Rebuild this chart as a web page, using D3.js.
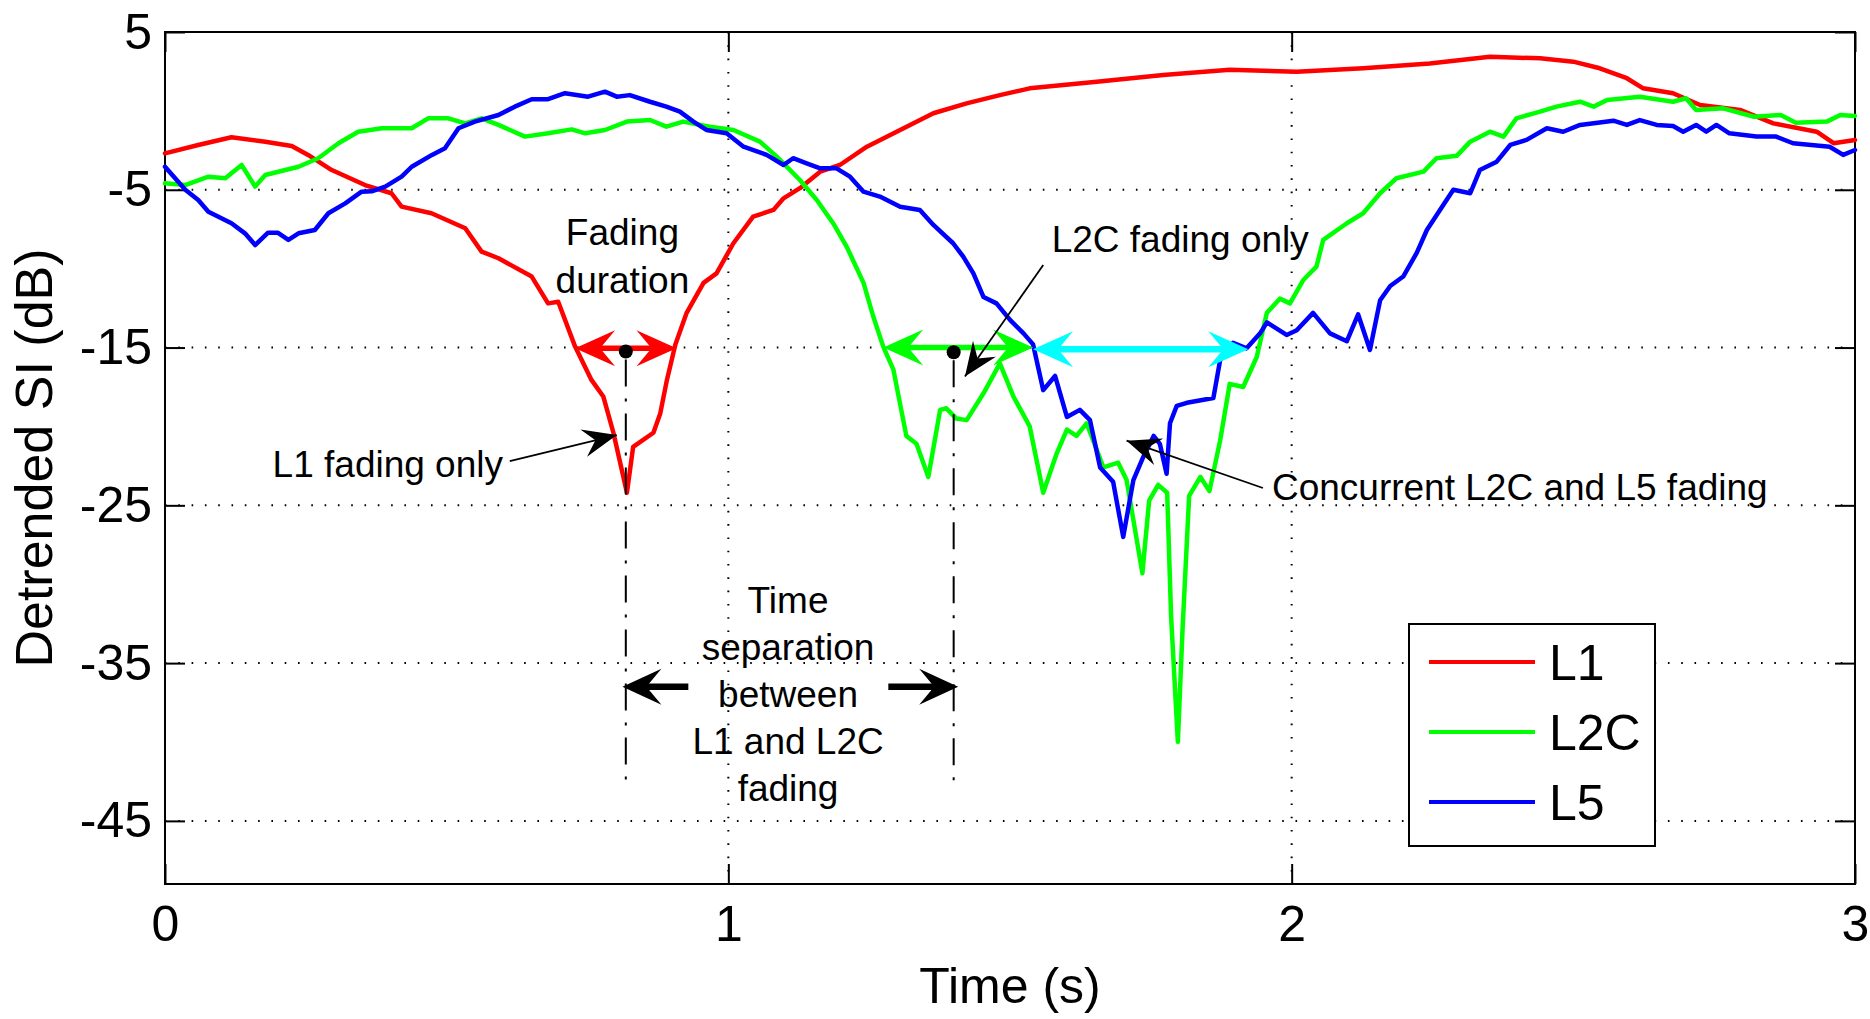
<!DOCTYPE html>
<html><head><meta charset="utf-8">
<script src="https://cdn.jsdelivr.net/npm/d3@7"></script>
<style>body{margin:0;background:#fff}svg{display:block}text{font-family:"Liberation Sans",Arial,Helvetica,sans-serif;fill:#000}</style>
</head><body><svg id="c" width="1870" height="1019"></svg>
<script>
// ---------- data ----------
const l1Time = [0,0.059,0.118,0.178,0.225,0.254,0.296,0.355,0.402,0.42,0.473,0.533,0.562,0.592,0.651,0.68,0.698,0.728,0.757,0.778,0.796,0.82,0.831,0.867,0.879,0.891,0.906,0.926,0.956,0.979,1.009,1.044,1.08,1.098,1.127,1.163,1.198,1.246,1.305,1.364,1.423,1.482,1.535,1.654,1.772,1.89,2.009,2.127,2.245,2.352,2.441,2.5,2.547,2.595,2.624,2.677,2.725,2.796,2.855,2.932,2.962,3.0];
const l1Values = [-2.69,-2.16,-1.67,-1.95,-2.22,-2.79,-3.75,-4.70,-5.22,-6.07,-6.49,-7.44,-8.92,-9.34,-10.5,-12.2,-12.1,-14.94,-17.05,-18.1,-20.4,-24.2,-21.3,-20.4,-19.2,-17.05,-14.8,-12.8,-10.9,-10.3,-8.39,-6.7,-6.28,-5.54,-4.9,-3.85,-3.43,-2.27,-1.21,-0.15,0.48,1.0,1.43,1.85,2.28,2.6,2.48,2.7,3.0,3.43,3.33,3.12,2.7,2.07,1.43,1.12,0.37,0.06,-0.79,-1.32,-2.05,-1.84];

const l2cTime = [0,0.036,0.077,0.107,0.136,0.160,0.178,0.237,0.272,0.308,0.343,0.385,0.438,0.467,0.503,0.533,0.562,0.592,0.639,0.68,0.722,0.746,0.781,0.82,0.861,0.89,0.92,0.967,1.009,1.056,1.086,1.127,1.157,1.186,1.21,1.24,1.257,1.275,1.293,1.316,1.334,1.355,1.376,1.387,1.405,1.423,1.453,1.482,1.506,1.535,1.559,1.583,1.601,1.618,1.636,1.666,1.692,1.707,1.735,1.747,1.763,1.779,1.786,1.798,1.806,1.818,1.838,1.854,1.873,1.89,1.914,1.938,1.956,1.979,1.997,2.021,2.044,2.056,2.098,2.127,2.157,2.186,2.234,2.257,2.293,2.317,2.352,2.376,2.399,2.441,2.47,2.512,2.536,2.56,2.618,2.677,2.7,2.718,2.766,2.821,2.868,2.895,2.95,2.974,3.0];
const l2cValues = [-4.59,-4.70,-4.17,-4.27,-3.43,-4.80,-4.06,-3.54,-3.0,-2.05,-1.32,-1.1,-1.1,-0.47,-0.47,-0.79,-0.47,-0.89,-1.63,-1.42,-1.17,-1.42,-1.21,-0.68,-0.58,-1.0,-0.68,-1.0,-1.21,-1.95,-2.9,-4.38,-5.65,-7.12,-8.6,-10.9,-13.0,-14.94,-16.4,-20.6,-21.1,-23.2,-18.95,-18.85,-19.5,-19.6,-17.9,-16.0,-18.1,-20.0,-24.2,-21.7,-20.2,-20.6,-19.8,-22.6,-22.3,-23.4,-29.3,-24.7,-23.7,-24.2,-32.05,-40.0,-33.1,-24.4,-23.2,-24.1,-20.9,-17.3,-17.5,-15.6,-12.8,-11.9,-12.2,-10.7,-9.87,-8.18,-7.12,-6.49,-5.22,-4.27,-3.85,-3.0,-2.85,-1.95,-1.32,-1.63,-0.47,-0.05,0.27,0.58,0.27,0.69,0.9,0.58,0.8,0.06,0.16,-0.37,-0.26,-0.75,-0.68,-0.26,-0.32];

const l5Time = [0,0.036,0.059,0.077,0.118,0.142,0.16,0.183,0.2,0.219,0.237,0.266,0.29,0.32,0.349,0.367,0.391,0.42,0.438,0.474,0.497,0.521,0.55,0.592,0.621,0.651,0.68,0.71,0.751,0.781,0.802,0.825,0.861,0.89,0.914,0.938,0.961,0.997,1.027,1.068,1.098,1.115,1.139,1.163,1.192,1.216,1.24,1.269,1.305,1.34,1.364,1.399,1.417,1.435,1.453,1.476,1.5,1.524,1.541,1.559,1.58,1.601,1.624,1.642,1.66,1.683,1.701,1.719,1.737,1.755,1.766,1.778,1.784,1.796,1.814,1.861,1.873,1.896,1.92,1.944,1.956,1.991,2.009,2.038,2.068,2.098,2.118,2.139,2.157,2.175,2.198,2.222,2.24,2.263,2.287,2.317,2.334,2.364,2.388,2.417,2.453,2.482,2.512,2.571,2.595,2.618,2.648,2.677,2.695,2.718,2.736,2.754,2.777,2.825,2.86,2.89,2.955,2.979,3.0];
const l5Values = [-3.54,-5.0,-5.65,-6.39,-7.12,-7.76,-8.5,-7.72,-7.72,-8.18,-7.76,-7.55,-6.49,-5.86,-5.12,-5.1,-4.8,-4.17,-3.54,-2.79,-2.37,-1.1,-0.68,-0.26,0.27,0.74,0.74,1.12,0.9,1.22,0.9,1.0,0.58,0.27,-0.05,-0.68,-1.21,-1.42,-2.27,-2.79,-3.43,-3.0,-3.32,-3.64,-3.64,-4.17,-5.12,-5.43,-6.07,-6.28,-7.23,-8.39,-9.24,-10.3,-11.8,-12.2,-13.25,-14.1,-14.8,-17.7,-16.8,-19.4,-18.95,-19.6,-22.6,-23.5,-27.0,-23.4,-21.9,-20.6,-21.1,-23.0,-19.8,-18.7,-18.5,-18.2,-15.8,-14.7,-15.05,-14.1,-13.4,-14.2,-13.9,-12.8,-14.1,-14.6,-12.9,-15.15,-12.0,-11.1,-10.5,-9.0,-7.55,-6.3,-5.0,-5.22,-3.75,-3.22,-2.16,-1.84,-1.1,-1.32,-0.89,-0.62,-0.89,-0.58,-0.89,-0.96,-1.32,-0.89,-1.32,-0.89,-1.42,-1.63,-1.63,-2.05,-2.27,-2.79,-2.48];

const seriesNames = ["L1", "L2C", "L5"];
const xTicks = [0, 1, 2, 3];
const yTicks = [5, -5, -15, -25, -35, -45];
const xLabel = "Time (s)";
const yLabel = "Detrended SI (dB)";

// annotation values (time, dB)
const spanArrows = [[0.728, 0.908, -15.05], [1.275, 1.541, -15.0], [1.541, 1.923, -15.1]];
const centerDots = [[0.818, -15.25], [1.40, -15.3]];
const markerLines = [[0.818, -15.25, -42.4], [1.40, -15.3, -42.6]];
const separationArrows = [[0.929, 0.812, -36.5], [1.284, 1.408, -36.5]];
const calloutArrows = [[0.612, -22.2, 0.802, -20.55], [1.559, -9.77, 1.42, -16.84], [1.949, -23.9, 1.707, -20.9]];
const fadingLabel = ["Fading", "duration"];
const separationLabel = ["Time", "separation", "between", "L1 and L2C", "fading"];
const l1Callout = "L1 fading only";
const l2cCallout = "L2C fading only";
const concurrentCallout = "Concurrent L2C and L5 fading";

// ---------- drawing ----------
const svg = d3.select("#c");
const x = d3.scaleLinear().domain([0, 3]).range([165, 1855]);
const y = d3.scaleLinear().domain([-49, 5]).range([884, 32]);
const colors = ["#ff0000", "#00ff00", "#0000ff"];
const spanColors = ["#ff0000", "#00ff00", "#00ffff"];
const fmt = d => String(d);

// grid
const g = svg.append("g");
g.selectAll("line.gy").data(yTicks.filter(v => v > -49 && v < 5)).join("line")
  .attr("x1", x(0)).attr("x2", x(3)).attr("y1", d => y(d)).attr("y2", d => y(d))
  .attr("stroke", "#000").attr("stroke-width", 2).attr("stroke-dasharray", "1.6,11.7");
g.selectAll("line.gx").data(xTicks.filter(v => v > 0 && v < 3)).join("line")
  .attr("x1", d => x(d)).attr("x2", d => x(d)).attr("y1", y(5)).attr("y2", y(-49))
  .attr("stroke", "#000").attr("stroke-width", 2).attr("stroke-dasharray", "1.6,11.7");

// axes
const fs = 50;
const axL = d3.axisLeft(y).tickValues(yTicks).tickFormat(fmt).tickSizeInner(-20).tickSizeOuter(0).tickPadding(13);
const axB = d3.axisBottom(x).tickValues(xTicks).tickFormat(fmt).tickSizeInner(-20).tickSizeOuter(0).tickPadding(21);
const axR = d3.axisRight(y).tickValues(yTicks).tickSizeInner(-20).tickSizeOuter(0).tickFormat("");
const axT = d3.axisTop(x).tickValues(xTicks).tickSizeInner(-20).tickSizeOuter(0).tickFormat("");
function styleAxis(sel) {
  sel.select(".domain").remove();
  sel.selectAll(".tick line").attr("stroke", "#000").attr("stroke-width", 2);
  sel.selectAll("text").attr("font-size", fs).attr("font-family", '"Liberation Sans",Arial,sans-serif').attr("fill", "#000");
}
svg.append("g").attr("transform", `translate(${x(0)},0)`).call(axL).call(styleAxis);
svg.append("g").attr("transform", `translate(0,${y(-49)})`).call(axB).call(styleAxis);
svg.append("g").attr("transform", `translate(${x(3)},0)`).call(axR).call(styleAxis);
svg.append("g").attr("transform", `translate(0,${y(5)})`).call(axT).call(styleAxis);
svg.append("rect").attr("x", x(0)).attr("y", y(5)).attr("width", x(3) - x(0)).attr("height", y(-49) - y(5))
  .attr("fill", "none").attr("stroke", "#000").attr("stroke-width", 2);

// axis labels
svg.append("text").attr("x", (x(0) + x(3)) / 2).attr("y", 1003).attr("text-anchor", "middle")
  .attr("font-size", fs).text(xLabel);
svg.append("text").attr("transform", `translate(52,${(y(5) + y(-49)) / 2}) rotate(-90)`)
  .attr("text-anchor", "middle").attr("font-size", 52).text(yLabel);

// series
const series = [
  d3.zip(l1Time, l1Values),
  d3.zip(l2cTime, l2cValues),
  d3.zip(l5Time, l5Values)
];
const line = d3.line().x(d => x(d[0])).y(d => y(d[1]));
svg.append("g").selectAll("path").data(series).join("path")
  .attr("d", line).attr("fill", "none").attr("stroke", (d, i) => colors[i])
  .attr("stroke-width", 4.5).attr("stroke-linejoin", "round").attr("stroke-linecap", "round");

// helpers
function head(x1, y1, x2, y2, L, W, N) {
  const dx = x2 - x1, dy = y2 - y1, d = Math.hypot(dx, dy), ux = dx / d, uy = dy / d, nx = -uy, ny = ux;
  const bx = x2 - L * ux, by = y2 - L * uy;
  return `M${x2},${y2}L${bx + W * nx},${by + W * ny}L${x2 - (L - N) * ux},${y2 - (L - N) * uy}L${bx - W * nx},${by - W * ny}Z`;
}
const ann = svg.append("g");

// dash-dot marker lines
markerLines.forEach(m => {
  ann.append("line").attr("x1", x(m[0])).attr("x2", x(m[0])).attr("y1", y(m[1]) + 8).attr("y2", y(m[2]))
    .attr("stroke", "#000").attr("stroke-width", 2).attr("stroke-dasharray", "27,12,3,12");
});

// colored double arrows
spanArrows.forEach((s, i) => {
  const xa = x(s[0]), xb = x(s[1]), yy = y(s[2]);
  ann.append("line").attr("x1", xa + 20).attr("x2", xb - 20).attr("y1", yy).attr("y2", yy)
    .attr("stroke", spanColors[i]).attr("stroke-width", i === 2 ? 6.5 : 5.5);
  ann.append("path").attr("d", head(xb, yy, xa, yy, 40, 18, 15)).attr("fill", spanColors[i]);
  ann.append("path").attr("d", head(xa, yy, xb, yy, 40, 18, 15)).attr("fill", spanColors[i]);
});

// center dots
ann.selectAll("circle").data(centerDots).join("circle")
  .attr("cx", d => x(d[0])).attr("cy", d => y(d[1])).attr("r", 7).attr("fill", "#000");

// separation arrows
separationArrows.forEach(s => {
  const xa = x(s[0]), xb = x(s[1]), yy = y(s[2]);
  const dir = Math.sign(xb - xa);
  ann.append("line").attr("x1", xa).attr("x2", xb - dir * 20).attr("y1", yy).attr("y2", yy)
    .attr("stroke", "#000").attr("stroke-width", 6.5);
  ann.append("path").attr("d", head(xa, yy, xb, yy, 39, 18, 15)).attr("fill", "#000");
});

// callout arrows
calloutArrows.forEach(c => {
  const x1 = x(c[0]), y1 = y(c[1]), x2 = x(c[2]), y2 = y(c[3]);
  ann.append("line").attr("x1", x1).attr("y1", y1).attr("x2", x2).attr("y2", y2)
    .attr("stroke", "#000").attr("stroke-width", 1.8);
  ann.append("path").attr("d", head(x1, y1, x2, y2, 34, 14, 12)).attr("fill", "#000");
});

// annotation text
const afs = 37;
function multiLine(lines, cx, firstBaseline, step) {
  const t = ann.append("text").attr("text-anchor", "middle").attr("font-size", afs);
  lines.forEach((l, i) => t.append("tspan").attr("x", cx).attr("y", firstBaseline + i * step).text(l));
}
multiLine(fadingLabel, x(0.812), y(-8.5), 48);
multiLine(separationLabel, x(1.106), y(-31.85), 46.8);
ann.append("text").attr("x", x(0.6)).attr("y", y(-23.18)).attr("text-anchor", "end").attr("font-size", afs).text(l1Callout);
ann.append("text").attr("x", x(1.574)).attr("y", y(-8.92)).attr("font-size", afs).text(l2cCallout);
ann.append("text").attr("x", x(1.965)).attr("y", y(-24.66)).attr("font-size", afs).text(concurrentCallout);

// legend
const lg = svg.append("g");
lg.append("rect").attr("x", 1409).attr("y", 624).attr("width", 246).attr("height", 222)
  .attr("fill", "#fff").attr("stroke", "#000").attr("stroke-width", 2);
seriesNames.forEach((n, i) => {
  const ly = 662 + i * 70;
  lg.append("line").attr("x1", 1429).attr("x2", 1535).attr("y1", ly).attr("y2", ly)
    .attr("stroke", colors[i]).attr("stroke-width", 4);
  lg.append("text").attr("x", 1549).attr("y", ly).attr("dy", "0.36em").attr("font-size", 50).text(n);
});
</script></body></html>
